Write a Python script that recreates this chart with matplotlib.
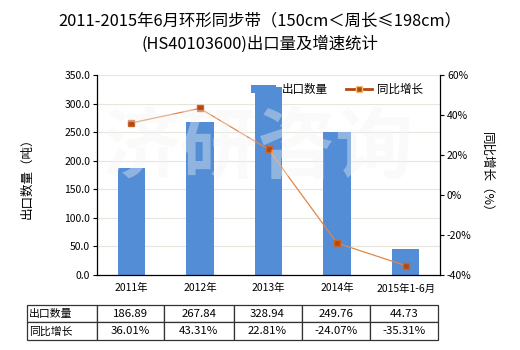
import matplotlib
matplotlib.use("Agg")
import matplotlib.pyplot as plt
from matplotlib.ticker import FuncFormatter, MultipleLocator
from matplotlib.patches import Patch
from matplotlib.lines import Line2D

plt.rcParams['font.family'] = ['Noto Sans CJK SC', 'DejaVu Sans']

categories = ["2011年", "2012年", "2013年", "2014年", "2015年1-6月"]
export_qty = [186.89, 267.84, 328.94, 249.76, 44.73]
yoy_growth = [36.01, 43.31, 22.81, -24.07, -35.31]
qty_labels = ["186.89", "267.84", "328.94", "249.76", "44.73"]
growth_labels = ["36.01%", "43.31%", "22.81%", "-24.07%", "-35.31%"]
title = "2011-2015年6月环形同步带（150cm＜周长≤198cm）\n(HS40103600)出口量及增速统计"

W, H = 520, 350
fig = plt.figure(figsize=(W / 100, H / 100), dpi=100)

def px(x0, y0, x1, y1):
    return [x0 / W, 1 - y1 / H, (x1 - x0) / W, (y1 - y0) / H]

ax = fig.add_axes(px(97, 75, 440, 275))
x = list(range(len(categories)))
bar_color = '#538DD5'
ax.bar(x, export_qty, width=0.4, color=bar_color, zorder=2)
ax.set_xlim(-0.5, len(categories) - 0.5)
ax.set_ylim(0, 350)
ax.yaxis.set_major_locator(MultipleLocator(50))
ax.yaxis.set_major_formatter(FuncFormatter(lambda v, p: f"{v:.1f}"))
ax.grid(axis='y', color='#E6E6DC', linewidth=0.8, zorder=0)
ax.set_xticks(x)
ax.set_xticklabels(categories, fontsize=7.5)
ax.tick_params(axis='x', length=0, pad=6)
ax.tick_params(axis='y', labelsize=7.5, length=3, width=0.8, pad=2)
for s in ['top', 'right']:
    ax.spines[s].set_visible(False)
for s in ['left', 'bottom']:
    ax.spines[s].set_linewidth(0.9)
ax.set_ylabel("出口数量（吨）", fontsize=9)
ax.yaxis.set_label_coords(-0.185, 0.5)

ax2 = ax.twinx()
line_color = '#E0874A'
marker_color = '#B5470F'
ax2.plot(x, yoy_growth, color=line_color, linewidth=0.9, marker='s', markersize=5,
         markerfacecolor=marker_color, markeredgecolor='#C8642A', zorder=4)
ax2.set_ylim(-40, 60)
ax2.yaxis.set_major_locator(MultipleLocator(20))
ax2.yaxis.set_major_formatter(FuncFormatter(lambda v, p: f"{int(v)}%"))
ax2.tick_params(axis='y', labelsize=7.5, length=3, width=0.8, pad=2)
for s in ['top', 'left', 'bottom']:
    ax2.spines[s].set_visible(False)
ax2.spines['right'].set_linewidth(0.9)
ax2.set_ylabel("同比增长（%）", fontsize=9, rotation=270)
ax2.yaxis.set_label_coords(1.155, 0.5)

handles = [Patch(facecolor=bar_color, edgecolor='none'),
           Line2D([0], [0], color=marker_color, linewidth=2, marker='s', markersize=4,
                  markerfacecolor=marker_color, markeredgecolor='#F0C080')]
leg = ax.legend(handles, ["出口数量", "同比增长"], loc='upper right', bbox_to_anchor=(0.975, 1.0),
                ncol=2, frameon=False, fontsize=8.3, handlelength=2.2, columnspacing=1.6,
                handletextpad=0.5, borderaxespad=0.3)
leg.set_zorder(1)

# watermark
fig.text(258 / W, 1 - 150 / H, "济研咨询", fontsize=56, color='#F4F4F4', alpha=0.38,
         ha='center', va='center', fontweight='bold', zorder=10)

fig.suptitle(title, y=1 - 12 / H, va='top', fontsize=11.8, linespacing=1.45)

# table
tax = fig.add_axes(px(27, 304.7, 438, 340))
tax.set_axis_off()
col_edges = [27, 96.5, 164, 233.5, 301.5, 370, 438]
cell_text = [["出口数量"] + qty_labels, ["同比增长"] + growth_labels]
colw = [(col_edges[i + 1] - col_edges[i]) / (438 - 27) for i in range(6)]
tbl = tax.table(cellText=cell_text, colWidths=colw, cellLoc='center', bbox=[0, 0, 1, 1])
tbl.auto_set_font_size(False)
for (r, c), cell in tbl.get_celld().items():
    cell.set_fontsize(8.2)
    cell.set_linewidth(0.9)
    cell.set_edgecolor('#333333')
    if c == 0:
        cell.set_fontsize(7.8)
        cell.get_text().set_ha('left')
        cell._loc = 'left'
        cell.PAD = 0.03

fig.savefig("out.png", dpi=100)
